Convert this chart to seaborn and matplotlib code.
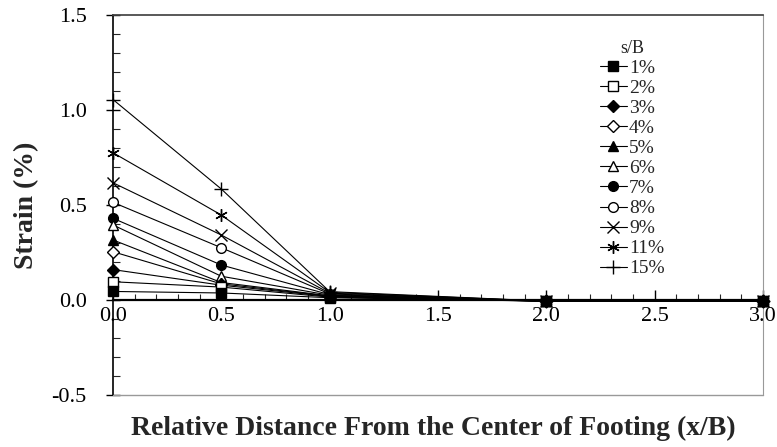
import matplotlib
matplotlib.use("Agg")
import matplotlib.pyplot as plt
from matplotlib.ticker import MultipleLocator, FormatStrFormatter
import seaborn as sns
import pandas as pd

x_pos = [0.0, 0.5, 1.0, 2.0, 3.0]
labels = ["1%", "2%", "3%", "4%", "5%", "6%", "7%", "8%", "9%", "11%", "15%"]
s1 = [0.045, 0.037, 0.012, -0.006, -0.006]
s2 = [0.096, 0.068, 0.015, -0.006, -0.006]
s3 = [0.160, 0.078, 0.018, -0.006, -0.006]
s4 = [0.254, 0.085, 0.020, -0.006, -0.006]
s5 = [0.316, 0.092, 0.022, -0.006, -0.006]
s6 = [0.395, 0.125, 0.025, -0.006, -0.006]
s7 = [0.430, 0.184, 0.028, -0.006, -0.006]
s8 = [0.514, 0.275, 0.032, -0.006, -0.006]
s9 = [0.617, 0.342, 0.036, -0.006, -0.006]
s11 = [0.775, 0.447, 0.040, -0.006, -0.006]
s15 = [1.055, 0.584, 0.044, -0.006, -0.006]
series = [s1, s2, s3, s4, s5, s6, s7, s8, s9, s11, s15]

markers = ["s", "s", "D", "D", "^", "^", "o", "o", "x", (6, 2, 0), "+"]
filled = [True, False, True, False, True, False, True, False, True, True, True]
msizes = [7, 7, 6, 6, 7, 7, 7, 7, 8, 9, 10]

sns.set_theme(style="ticks")
plt.rcParams["font.family"] = ["Liberation Serif", "DejaVu Serif"]

fig = plt.figure(figsize=(7.77, 4.47), dpi=100)
ax = fig.add_axes([113 / 777, 1 - 395 / 447, 650 / 777, 380 / 447])

n = len(series)
for i, (lab, vals, m, f, ms) in enumerate(zip(labels, series, markers, filled, msizes)):
    df = pd.DataFrame({"x": x_pos, "y": vals})
    sns.lineplot(data=df, x="x", y="y", ax=ax, color="black", linewidth=0.8,
                 marker=m, markersize=ms, markeredgecolor="black",
                 markerfacecolor=("black" if f else "white"),
                 markeredgewidth=1.0, label=lab, legend=False, zorder=3 + (n - i) * 0.01,
                 clip_on=False)

ax.set_xlim(0, 3.0)
ax.set_ylim(-0.5, 1.5)

# spines
ax.spines["bottom"].set_position(("data", 0))
ax.spines["bottom"].set_linewidth(1.6)
ax.spines["bottom"].set_color("black")
ax.spines["left"].set_color("black")
ax.spines["left"].set_linewidth(1.2)
ax.spines["top"].set_visible(True)
ax.spines["top"].set_color("#444444")
ax.spines["right"].set_visible(True)
ax.spines["right"].set_color("#999999")
ax.spines["right"].set_linewidth(0.8)
ax.axhline(-0.5, color="#999999", linewidth=1.0, clip_on=False, zorder=5)

ax.xaxis.set_major_locator(MultipleLocator(0.5))
ax.xaxis.set_minor_locator(MultipleLocator(0.1))
ax.yaxis.set_major_locator(MultipleLocator(0.5))
ax.yaxis.set_minor_locator(MultipleLocator(0.1))
ax.xaxis.set_major_formatter(FormatStrFormatter("%.1f"))
ax.yaxis.set_major_formatter(FormatStrFormatter("%.1f"))
ax.tick_params(axis="x", which="major", direction="in", length=7, width=1, pad=5,
               labelsize=16, colors="black")
ax.tick_params(axis="x", which="minor", direction="in", length=4, width=0.8)
ax.tick_params(axis="y", which="major", direction="inout", length=10, width=1, pad=14,
               labelsize=16, colors="black")
ax.tick_params(axis="y", which="minor", direction="in", length=5, width=0.8)

ax.set_xlabel("")
ax.set_ylabel("")
fig.text(433 / 777, 1 - 428 / 447, "Relative Distance From the Center of Footing (x/B)",
         fontsize=20, fontweight="bold", ha="center", va="center")
fig.text(27 / 777, 1 - 205 / 447, "Strain (%)", fontsize=20, fontweight="bold",
         rotation=90, ha="center", va="center")

handles, labs = ax.get_legend_handles_labels()
leg = ax.legend(handles, labs, title="s/B", loc="upper left",
                bbox_to_anchor=(0.728, 0.97), frameon=False, fontsize=14,
                title_fontsize=13, labelspacing=0.125, handlelength=1.4,
                handletextpad=0.1, borderpad=0.2)

fig.savefig("out.png", dpi=100)
